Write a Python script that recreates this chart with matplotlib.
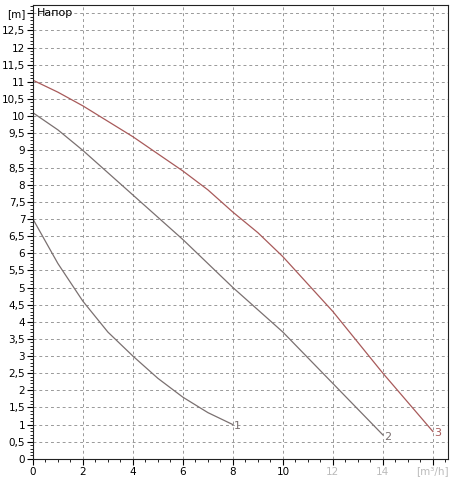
import matplotlib
matplotlib.use("Agg")
import matplotlib.pyplot as plt
import numpy as np
from matplotlib.ticker import MultipleLocator

x1 = [0, 1, 2, 3, 4, 5, 6, 7, 8]
y1 = [7.0, 5.7, 4.6, 3.7, 3.0, 2.35, 1.8, 1.35, 1.0]
x2 = [0, 1, 2, 3, 4, 5, 6, 7, 8, 9, 10, 11, 12, 13, 14]
y2 = [10.1, 9.6, 9.0, 8.35, 7.7, 7.05, 6.4, 5.7, 5.0, 4.35, 3.7, 2.95, 2.2, 1.45, 0.7]
x3 = [0, 1, 2, 3, 4, 5, 6, 7, 8, 9, 10, 11, 12, 13, 14, 15, 16]
y3 = [11.05, 10.7, 10.3, 9.85, 9.4, 8.9, 8.4, 7.85, 7.2, 6.6, 5.9, 5.1, 4.3, 3.4, 2.5, 1.65, 0.8]
names = ["1", "2", "3"]
colors = ["#7a7070", "#7a7070", "#a85a5a"]

fig = plt.figure(figsize=(4.57, 4.78), dpi=100)
ax = fig.add_axes([0.072, 0.04, 0.908, 0.95])
for xs, ys, c, n in zip([x1, x2, x3], [y1, y2, y3], colors, names):
    ax.plot(xs, ys, color=c, lw=0.9)
    ax.text(xs[-1] + 0.05, ys[-1] - 0.05, n, color=c, fontsize=8, va="center", ha="left")

ax.set_xlim(0, 16.6)
ax.set_ylim(0, 13.25)
ax.xaxis.set_major_locator(MultipleLocator(2))
ax.xaxis.set_minor_locator(MultipleLocator(0.5))
ax.yaxis.set_minor_locator(MultipleLocator(0.1))
ax.set_yticks(np.arange(0, 13.01, 0.5))
ax.set_yticklabels([("%g" % v).replace(".", ",") for v in np.arange(0, 12.51, 0.5)] + ["[m]"])
xt = list(range(0, 17, 2))
ax.set_xticks(xt)
ax.set_xticklabels([str(v) for v in xt[:-1]] + ["[m³/h]"])
for lab, v in zip(ax.get_xticklabels(), xt):
    if v >= 12:
        lab.set_color("#bbbbbb")
ax.tick_params(labelsize=7.5, length=4, direction="out", pad=1.5)
ax.tick_params(which="minor", length=2)
ax.grid(True, which="major", color="#999999", ls=(0, (3, 3)), lw=0.7)
for s in ax.spines.values():
    s.set_color("#222222")
ax.text(0.15, 13.0, "Напор", fontsize=8, va="center", ha="left")
fig.savefig("out.png", dpi=100)
